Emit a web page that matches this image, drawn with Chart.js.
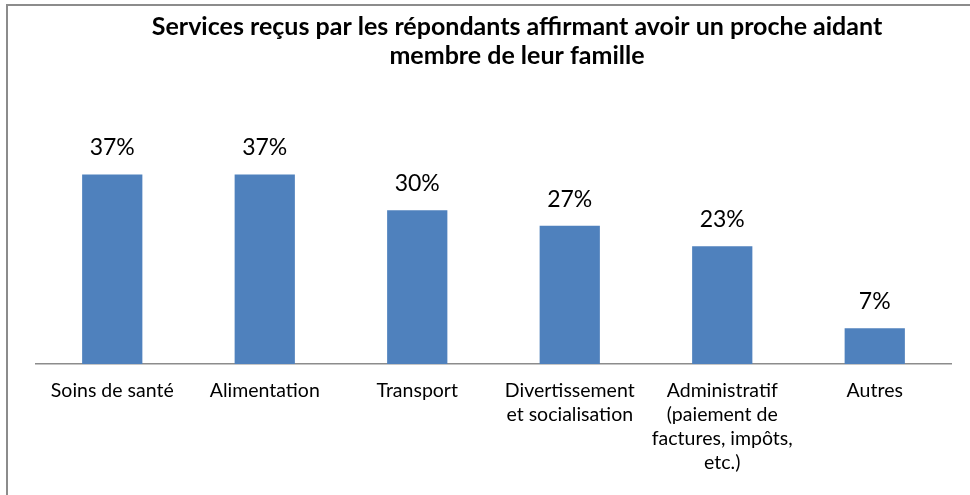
<!DOCTYPE html>
<html lang="fr">
<head>
<meta charset="utf-8">
<script src="https://cdn.jsdelivr.net/npm/chart.js@4/dist/chart.umd.min.js"></script>
<style>
  html, body { margin: 0; padding: 0; background: #fff; overflow: hidden; }
  #wrap { position: relative; width: 970px; height: 495px; }
  #frame {
    position: absolute; left: 6px; top: 4px; width: 980px; height: 510px;
    border-top: 2px solid #8c8c8c; border-left: 2px solid #8c8c8c; pointer-events: none;
  }
  canvas { position: absolute; left: 0; top: 0; }
</style>
</head>
<body>
<div id="wrap">
  <canvas id="chart" width="970" height="495"></canvas>
  <div id="frame"></div>
</div>
<script>
// Données
const categories = [
  "Soins de santé",
  "Alimentation",
  "Transport",
  ["Divertissement", "et socialisation"],
  ["Administratif", "(paiement de", "factures, impôts,", "etc.)"],
  "Autres"
]
const percentValues = [37, 37, 30, 27, 23, 7]
const titleLines = [
  "Services reçus par les répondants affirmant avoir un proche aidant",
  "membre de leur famille"
]

// Titre centré comme dans Excel (décalé à droite du centre du graphique)
const excelTitle = {
  id: "excelTitle",
  afterDraw(chart) {
    const ctx = chart.ctx
    ctx.save()
    ctx.font = "bold 25px Lato"
    ctx.fillStyle = "#000"
    ctx.textAlign = "center"
    ctx.textBaseline = "alphabetic"
    titleLines.forEach((line, i) => ctx.fillText(line, 517, 35 + i * 29))
    ctx.restore()
  }
}

// Étiquettes de valeur au-dessus des barres
const valueLabels = {
  id: "valueLabels",
  afterDatasetsDraw(chart) {
    const ctx = chart.ctx
    const meta = chart.getDatasetMeta(0)
    ctx.save()
    ctx.font = "23px Lato"
    ctx.fillStyle = "#000"
    ctx.textAlign = "center"
    ctx.textBaseline = "alphabetic"
    meta.data.forEach((bar, i) => {
      ctx.fillText(`${percentValues[i]}%`, bar.x, bar.y - 19)
    })
    ctx.restore()
  }
}

new Chart(document.getElementById("chart"), {
  type: "bar",
  data: {
    labels: categories,
    datasets: [{
      data: percentValues,
      backgroundColor: "#4f81bd",
      borderWidth: 0,
      barPercentage: 0.395,
      categoryPercentage: 1
    }]
  },
  options: {
    responsive: false,
    animation: false,
    layout: { padding: { left: 36, right: 19, top: 159, bottom: 0 } },
    plugins: {
      legend: { display: false },
      tooltip: { enabled: false },
      title: { display: false }
    },
    scales: {
      x: {
        grid: { display: false, drawTicks: false },
        border: { display: true, color: "#8c8c8c", width: 1.5 },
        ticks: {
          color: "#000",
          font: { family: "Lato", size: 19.5, lineHeight: 1.23 },
          padding: 15,
          maxRotation: 0,
          autoSkip: false
        },
        afterFit: (scale) => { scale.height = 131 }
      },
      y: {
        display: false,
        min: 0,
        max: 40
      }
    }
  },
  plugins: [valueLabels, excelTitle]
})
</script>
</body>
</html>
